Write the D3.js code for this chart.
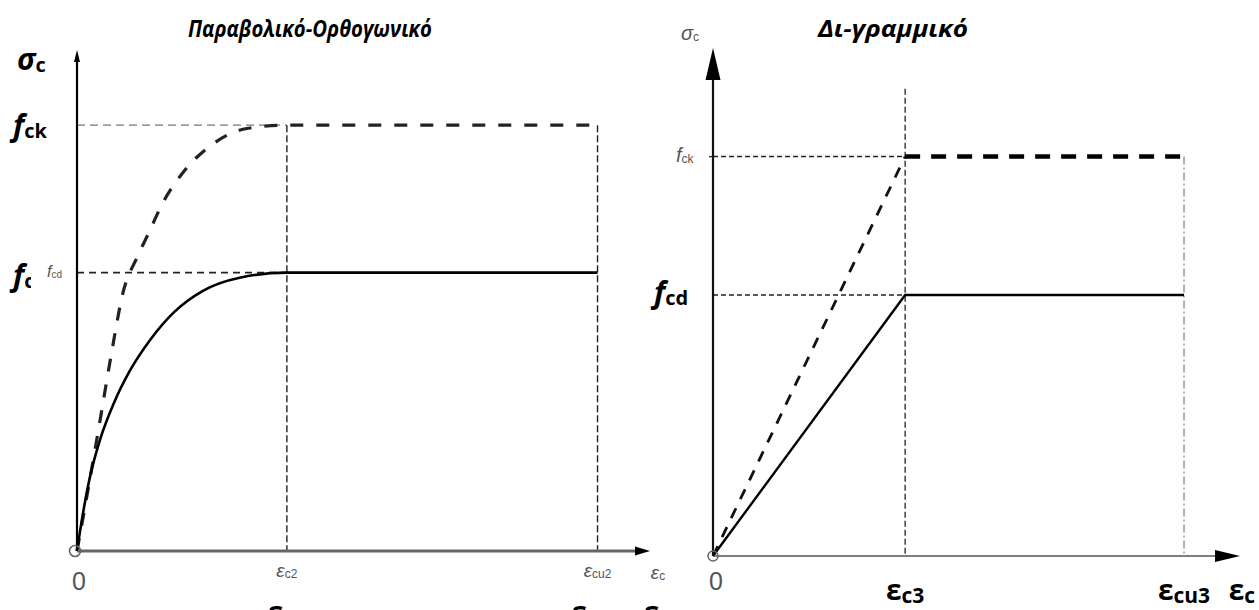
<!DOCTYPE html>
<html>
<head>
<meta charset="utf-8">
<script src="https://cdn.jsdelivr.net/npm/d3@7"></script>
<style>
  body { margin: 0; background: #fff; }
  svg { display: block; }
  .bold { font-family: "Open Sans", sans-serif; font-weight: 700; fill: #000; }
  .gray { font-family: "Liberation Sans Narrow", "Liberation Sans", sans-serif; fill: #555; }
</style>
</head>
<body>
<div id="graphic"></div>
<script>
// Left panel: parabola-rectangle (x = strain, y = stress / fcd)
var parabolaDesign = [[0, 0], [0.05, 0.12], [0.12, 0.26], [0.22, 0.40], [0.35, 0.53], [0.5, 0.645], [0.7, 0.76], [0.93, 0.86], [1.2, 0.935], [1.55, 0.982], [2.0, 1.0], [4.96, 1.0]];
var parabolaChar = [[0, 0], [0.105, 0.22], [0.22, 0.47], [0.333, 0.72], [0.438, 0.928], [0.571, 1.054], [0.676, 1.137], [0.819, 1.252], [1.01, 1.36], [1.286, 1.46], [1.62, 1.518], [2.0, 1.53], [4.96, 1.53]];
var leftStrains = [2.0, 4.96]; // εc2, εcu2
var leftStrainLabels = ["c2", "cu2"];

// Right panel: bilinear
var bilinearDesign = [[0, 0], [1.75, 1.0], [4.29, 1.0]];
var bilinearChar = [[0, 0], [1.75, 1.53], [4.29, 1.53]];
var rightStrains = [1.75, 4.29]; // εc3, εcu3
var rightStrainLabels = ["c3", "cu3"];

var fcd = 1.0;
var fck = 1.53;

var svg = d3.select("#graphic").append("svg")
  .attr("width", 1259).attr("height", 610);

// ---------- helpers ----------
function label(g, x, y, main, sub, cls, size, subSize, italic, anchor) {
  var t = g.append("text").attr("class", cls).attr("x", x).attr("y", y)
    .attr("text-anchor", anchor || "start");
  t.append("tspan").attr("font-size", size).attr("font-style", italic ? "italic" : "normal").text(main);
  if (sub) t.append("tspan").attr("font-size", subSize).attr("dy", subSize * 0.12).text(sub);
  return t;
}

// ---------- LEFT PANEL ----------
var xL = d3.scaleLinear().domain([0, 5.46]).range([77, 650]);
var yL = d3.scaleLinear().domain([0, 1.8]).range([551, 50]);
var left = svg.append("g");

// reference lines
left.append("line").attr("x1", xL(0)).attr("x2", xL(leftStrains[0]))
  .attr("y1", yL(fck)).attr("y2", yL(fck))
  .attr("stroke", "#777").attr("stroke-width", 1.3).attr("stroke-dasharray", "8,5");
left.append("line").attr("x1", xL(0)).attr("x2", xL(leftStrains[0]))
  .attr("y1", yL(fcd)).attr("y2", yL(fcd))
  .attr("stroke", "#222").attr("stroke-width", 1.6).attr("stroke-dasharray", "7,5");
leftStrains.forEach(function (s) {
  left.append("line").attr("x1", xL(s)).attr("x2", xL(s))
    .attr("y1", yL(fck)).attr("y2", yL(0))
    .attr("stroke", "#222").attr("stroke-width", 1.4).attr("stroke-dasharray", "7,3");
});

var lineL = d3.line().x(function (d) { return xL(d[0]); }).y(function (d) { return yL(d[1]); })
  .curve(d3.curveMonotoneX);

left.append("path").datum(parabolaChar).attr("d", lineL)
  .attr("fill", "none").attr("stroke", "#222").attr("stroke-width", 3.2)
  .attr("stroke-dasharray", "13,13");
left.append("path").datum(parabolaDesign).attr("d", lineL)
  .attr("fill", "none").attr("stroke", "#000").attr("stroke-width", 2.6);

// axes
left.append("line").attr("x1", xL(0)).attr("x2", xL(5.35))
  .attr("y1", yL(0)).attr("y2", yL(0)).attr("stroke", "#666").attr("stroke-width", 3);
left.append("path")
  .attr("d", "M" + xL(5.46) + "," + yL(0) + "L" + (xL(5.46) - 15) + "," + (yL(0) - 4.5) + "L" + (xL(5.46) - 15) + "," + (yL(0) + 4.5) + "Z")
  .attr("fill", "#000");
left.append("line").attr("x1", xL(0)).attr("x2", xL(0))
  .attr("y1", yL(0)).attr("y2", yL(1.78)).attr("stroke", "#000").attr("stroke-width", 2.2);
left.append("path")
  .attr("d", "M" + xL(0) + "," + yL(1.8) + "L" + (xL(0) - 3) + "," + (yL(1.8) + 12) + "L" + (xL(0) + 3) + "," + (yL(1.8) + 12) + "Z")
  .attr("fill", "#000");
left.append("circle").attr("cx", xL(0) - 2).attr("cy", yL(0)).attr("r", 5.5)
  .attr("fill", "none").attr("stroke", "#666").attr("stroke-width", 1.6);

// labels
left.append("text").attr("class", "bold").attr("x", 188).attr("y", 37)
  .attr("font-size", 23).attr("font-style", "italic")
  .attr("textLength", 244).attr("lengthAdjust", "spacingAndGlyphs")
  .text("Παραβολικό-Ορθογωνικό");
label(left, 17, 70, "σ", "c", "bold", 30, 20, true);
label(left, 13, 136, "f", "ck", "bold", 30, 20, true);
left.append("clipPath").attr("id", "clipF").append("rect")
  .attr("x", 0).attr("y", 240).attr("width", 31).attr("height", 80);
label(left, 13, 286, "f", "cd", "bold", 30, 20, true).attr("clip-path", "url(#clipF)");
label(left, 47, 277, "f", "cd", "gray", 16, 10, true).attr("fill", "#888");

left.append("text").attr("class", "gray").attr("x", xL(0) + 2).attr("y", 590)
  .attr("text-anchor", "middle").attr("font-size", 25).text("0");
leftStrains.forEach(function (s, i) {
  label(left, xL(s), 577, "ε", leftStrainLabels[i], "gray", 19, 12, true, "middle");
  label(left, xL(s), 622, "ε", leftStrainLabels[i], "bold", 28, 21, false, "middle");
});
label(left, xL(5.46) + 8, 579, "ε", "c", "gray", 19, 12, true, "middle");
label(left, 657, 622, "ε", "c", "bold", 28, 21, false, "middle");

// ---------- RIGHT PANEL ----------
var xR = d3.scaleLinear().domain([0, 4.8]).range([713, 1240]);
var yR = d3.scaleLinear().domain([0, 1.946]).range([556, 48]);
var right = svg.append("g");

right.append("line").attr("x1", xR(0)).attr("x2", xR(rightStrains[0]))
  .attr("y1", yR(fck)).attr("y2", yR(fck))
  .attr("stroke", "#222").attr("stroke-width", 1.5).attr("stroke-dasharray", "5,3");
right.append("line").attr("x1", xR(0)).attr("x2", xR(rightStrains[0]))
  .attr("y1", yR(fcd)).attr("y2", yR(fcd))
  .attr("stroke", "#222").attr("stroke-width", 1.5).attr("stroke-dasharray", "5,3");
right.append("line").attr("x1", xR(rightStrains[0])).attr("x2", xR(rightStrains[0]))
  .attr("y1", yR(1.79)).attr("y2", yR(0))
  .attr("stroke", "#222").attr("stroke-width", 1.3).attr("stroke-dasharray", "6,3");
right.append("line").attr("x1", xR(rightStrains[1])).attr("x2", xR(rightStrains[1]))
  .attr("y1", yR(fck)).attr("y2", yR(0))
  .attr("stroke", "#888").attr("stroke-width", 1.3).attr("stroke-dasharray", "8,3,2,3");

var lineR = d3.line().x(function (d) { return xR(d[0]); }).y(function (d) { return yR(d[1]); });

right.append("path").datum(bilinearChar.slice(0, 2)).attr("d", lineR)
  .attr("fill", "none").attr("stroke", "#111").attr("stroke-width", 2.8)
  .attr("stroke-dasharray", "11,10");
right.append("path").datum(bilinearChar.slice(1)).attr("d", lineR)
  .attr("fill", "none").attr("stroke", "#000").attr("stroke-width", 4.5)
  .attr("stroke-dasharray", "15,11");
right.append("path").datum(bilinearDesign).attr("d", lineR)
  .attr("fill", "none").attr("stroke", "#000").attr("stroke-width", 2.4);

// axes
right.append("line").attr("x1", xR(0)).attr("x2", xR(4.65))
  .attr("y1", yR(0)).attr("y2", yR(0)).attr("stroke", "#555").attr("stroke-width", 1.6);
right.append("path")
  .attr("d", "M" + xR(4.8) + "," + yR(0) + "L" + (xR(4.8) - 25) + "," + (yR(0) - 6) + "L" + (xR(4.8) - 25) + "," + (yR(0) + 6) + "Z")
  .attr("fill", "#000");
right.append("line").attr("x1", xR(0)).attr("x2", xR(0))
  .attr("y1", yR(0)).attr("y2", yR(1.85)).attr("stroke", "#111").attr("stroke-width", 2.2);
right.append("path")
  .attr("d", "M" + xR(0) + "," + yR(1.946) + "L" + (xR(0) - 7.5) + "," + (yR(1.946) + 32) + "L" + (xR(0) + 7.5) + "," + (yR(1.946) + 32) + "Z")
  .attr("fill", "#000");
right.append("line").attr("x1", xR(0) - 4).attr("x2", xR(0))
  .attr("y1", yR(fck)).attr("y2", yR(fck)).attr("stroke", "#222").attr("stroke-width", 1.3);
right.append("circle").attr("cx", xR(0)).attr("cy", yR(0)).attr("r", 5)
  .attr("fill", "none").attr("stroke", "#666").attr("stroke-width", 1.5);

// labels
right.append("text").attr("class", "bold").attr("x", 818).attr("y", 37)
  .attr("font-size", 24).attr("font-style", "italic")
  .attr("textLength", 150).attr("lengthAdjust", "spacingAndGlyphs")
  .text("Δι-γραμμικό");
label(right, 681, 40, "σ", "c", "gray", 20, 12, true).attr("fill", "#777");
label(right, 676, 162, "f", "ck", "gray", 20, 12, true).attr("fill", "#777");
label(right, 654, 303, "f", "cd", "bold", 30, 20, true);
right.append("text").attr("class", "gray").attr("x", xR(0) + 3).attr("y", 590)
  .attr("text-anchor", "middle").attr("font-size", 25).text("0");
rightStrains.forEach(function (s, i) {
  label(right, xR(s), 600, "ε", rightStrainLabels[i], "bold", 28, 21, false, "middle");
});
label(right, 1242, 600, "ε", "c", "bold", 28, 21, false, "middle");
</script>
</body>
</html>
